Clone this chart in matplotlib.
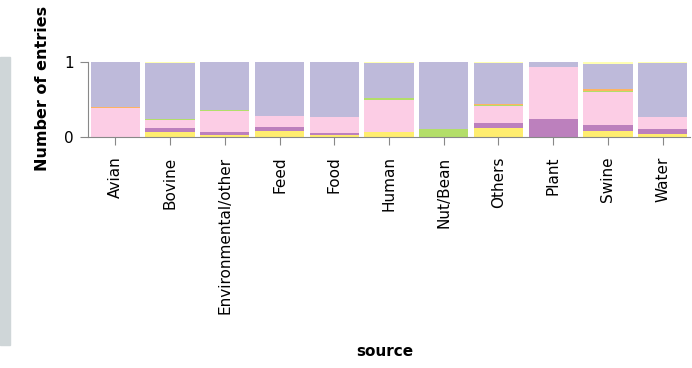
import numpy as np
import matplotlib.pyplot as plt
from matplotlib.patches import Rectangle

# --- data: share of entries per source ---
sources = ['Avian', 'Bovine', 'Environmental/other', 'Feed', 'Food', 'Human',
           'Nut/Bean', 'Others', 'Plant', 'Swine', 'Water']

# stacked from bottom to top
yellow    = [0.00, 0.06, 0.03, 0.08, 0.03, 0.06, 0.00, 0.12, 0.00,  0.075, 0.04]
purple    = [0.00, 0.06, 0.03, 0.05, 0.02, 0.00, 0.00, 0.06, 0.245, 0.08,  0.06]
pink      = [0.39, 0.11, 0.29, 0.15, 0.22, 0.43, 0.00, 0.23, 0.685, 0.45,  0.16]
green     = [0.00, 0.012, 0.015, 0.00, 0.00, 0.025, 0.10, 0.02, 0.00, 0.01, 0.00]
orange    = [0.012, 0.00, 0.00, 0.00, 0.00, 0.00, 0.00, 0.01, 0.00,  0.03,  0.00]
lavender  = [0.598, 0.748, 0.635, 0.72, 0.73, 0.475, 0.90, 0.55, 0.07, 0.335, 0.73]
pale      = [0.00, 0.01, 0.00, 0.00, 0.00, 0.01, 0.00, 0.01, 0.00,  0.02,  0.01]

series = [yellow, purple, pink, green, orange, lavender, pale]
colors = ['#ffed6f', '#bc80bd', '#fccde5', '#b3de69', '#fdb462', '#bebada', '#ffffb3']

fig = plt.figure(figsize=(6.92, 3.68), dpi=100)
ax = fig.add_axes([88 / 692, 1 - 137 / 368, 602 / 692, 75 / 368])

x = np.arange(len(sources))
bottom = np.zeros(len(sources))
for vals, col in zip(series, colors):
    vals = np.array(vals)
    ax.bar(x, vals, bottom=bottom, width=0.9, color=col, linewidth=0)
    bottom += vals

ax.set_xlim(-0.5, len(sources) - 0.5)
ax.set_ylim(0, 1)
ax.set_yticks([0, 1])
ax.set_yticklabels(['0', '1'], fontsize=11)
ax.set_xticks(x)
ax.set_xticklabels(sources, rotation=90, fontsize=11, va='top')
ax.tick_params(axis='x', length=6, color='#888888', pad=8)
ax.tick_params(axis='y', length=6, color='#888888', pad=4)
for s in ['top', 'right']:
    ax.spines[s].set_visible(False)
for s in ['left', 'bottom']:
    ax.spines[s].set_color('#888888')

fig.text(43 / 692, 1 - 88 / 368, 'Number of entries', rotation=90,
         ha='center', va='center', fontsize=11.5, fontweight='bold')
fig.text(385 / 692, 1 - 352 / 368, 'source', ha='center', va='center',
         fontsize=11, fontweight='bold')

# grey strip on the left edge
fig.patches.append(Rectangle((0, 1 - 345 / 368), 10 / 692, 288 / 368,
                             transform=fig.transFigure, color='#cfd6d8', zorder=0))

fig.savefig('out.png', dpi=100)
